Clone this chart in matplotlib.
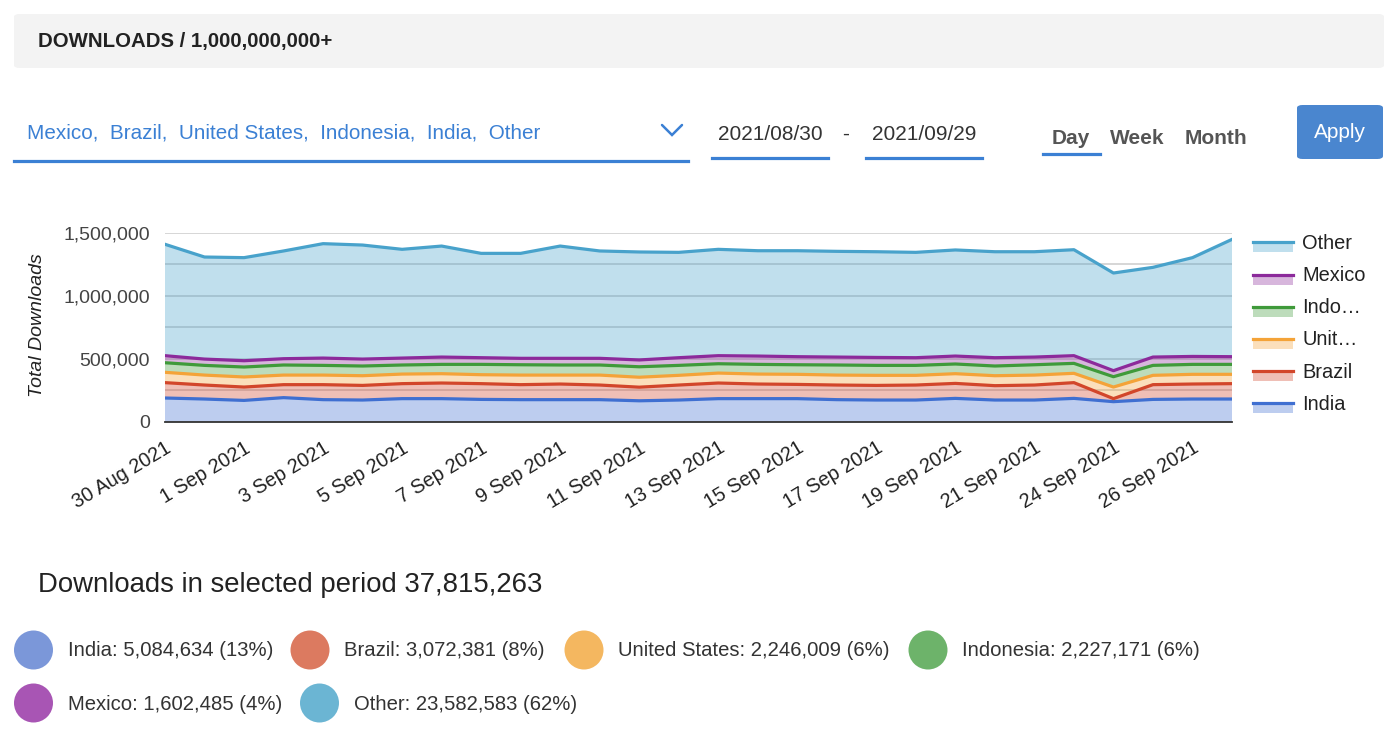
import numpy as np
import matplotlib
matplotlib.use('Agg')
from matplotlib import pyplot as plt
from matplotlib.patches import Rectangle, Ellipse, FancyBboxPatch
from matplotlib.lines import Line2D
from matplotlib.ticker import FuncFormatter, MultipleLocator
from matplotlib.transforms import ScaledTranslation

plt.rcParams['font.family'] = ['Liberation Sans', 'DejaVu Sans']

# daily downloads (per country)
dates = ['30 Aug 2021', '31 Aug 2021', '1 Sep 2021', '2 Sep 2021', '3 Sep 2021', '4 Sep 2021',
         '5 Sep 2021', '6 Sep 2021', '7 Sep 2021', '8 Sep 2021', '9 Sep 2021', '10 Sep 2021',
         '11 Sep 2021', '12 Sep 2021', '13 Sep 2021', '14 Sep 2021', '15 Sep 2021', '16 Sep 2021',
         '17 Sep 2021', '18 Sep 2021', '19 Sep 2021', '20 Sep 2021', '21 Sep 2021', '22 Sep 2021',
         '24 Sep 2021', '25 Sep 2021', '26 Sep 2021', '27 Sep 2021']
india = [188, 180, 169, 191, 175, 172, 183, 183, 177, 175, 175, 175, 166, 172,
         183, 183, 183, 175, 172, 172, 185, 172, 172, 185, 159, 177, 180, 180]
brazil = [122, 111, 106, 103, 119, 116, 119, 124, 125, 119, 124, 116, 108, 119,
          124, 116, 113, 116, 116, 119, 119, 114, 119, 125, 24, 117, 119, 122]
united_states = [82, 79, 80, 76, 76, 77, 76, 74, 71, 76, 71, 79, 79, 77,
                 79, 79, 80, 79, 80, 77, 77, 79, 79, 74, 92, 74, 77, 74]
indonesia = [76, 77, 79, 80, 77, 77, 72, 74, 82, 82, 80, 80, 83, 79,
             74, 77, 76, 80, 79, 79, 77, 77, 82, 79, 82, 79, 79, 79]
mexico = [56, 50, 50, 50, 58, 55, 55, 58, 53, 51, 53, 53, 54, 61,
          64, 66, 64, 63, 63, 61, 63, 66, 61, 61, 48, 66, 63, 61]
other = [884, 810, 818, 855, 908, 905, 863, 881, 828, 833, 891, 852, 857, 836,
         844, 836, 841, 839, 839, 836, 842, 841, 836, 841, 775, 712, 784, 931]

series_names = ['India', 'Brazil', 'Unit…', 'Indo…', 'Mexico', 'Other']
line_colors = ['#3f6fd1', '#d2462a', '#f4a338', '#3f9a3a', '#8c2a9b', '#48a2cb']

# totals for the summary below the chart
total_label = 'Downloads in selected period 37,815,263'
summary = [('India: 5,084,634 (13%)', '#7b97d9'), ('Brazil: 3,072,381 (8%)', '#dc7a60'),
           ('United States: 2,246,009 (6%)', '#f4b760'), ('Indonesia: 2,227,171 (6%)', '#6db36a'),
           ('Mexico: 1,602,485 (4%)', '#a855b4'), ('Other: 23,582,583 (62%)', '#6bb5d3')]

W, H = 1400, 734


def fx(px):
    return px / W


def fy(py):
    return 1 - py / H


fig = plt.figure(figsize=(14, 7.34), dpi=100)

# header bar
fig.patches.append(FancyBboxPatch((fx(14), fy(68)), fx(1384) - fx(14), fy(14) - fy(68),
                                  boxstyle='round,pad=0,rounding_size=0.004',
                                  transform=fig.transFigure, fc='#f3f3f3', ec='none'))
fig.text(fx(38), fy(41), 'DOWNLOADS / 1,000,000,000+', fontsize=14.7, fontweight='bold',
         color='#222222', va='center', ha='left')

# selector row
blue = '#3b80d4'
fig.text(fx(27), fy(133), 'Mexico,  Brazil,  United States,  Indonesia,  India,  Other',
         fontsize=14.9, color=blue, va='center', ha='left')
fig.add_artist(Line2D([fx(14), fx(688)], [fy(161), fy(161)], color=blue, lw=2.3))
fig.add_artist(Line2D([fx(662), fx(672), fx(682)], [fy(125), fy(135), fy(125)],
                      color=blue, lw=1.8, solid_capstyle='round', solid_joinstyle='miter'))
fig.text(fx(770), fy(135), '2021/08/30', fontsize=15, color='#333333', va='center', ha='center')
fig.text(fx(846), fy(134), '-', fontsize=15, color='#333333', va='center', ha='center')
fig.text(fx(924), fy(135), '2021/09/29', fontsize=15, color='#333333', va='center', ha='center')
fig.add_artist(Line2D([fx(712), fx(828)], [fy(158), fy(158)], color=blue, lw=2.3))
fig.add_artist(Line2D([fx(866), fx(982)], [fy(158), fy(158)], color=blue, lw=2.3))
for label, cx in [('Day', 1071), ('Week', 1137), ('Month', 1216)]:
    fig.text(fx(cx), fy(139), label, fontsize=15, fontweight='bold', color='#555555',
             va='center', ha='center')
fig.add_artist(Line2D([fx(1043), fx(1100)], [fy(154), fy(154)], color=blue, lw=2.3))
fig.patches.append(FancyBboxPatch((fx(1297), fy(159)), fx(1383) - fx(1297), fy(105) - fy(159),
                                  boxstyle='round,pad=0,rounding_size=0.004',
                                  transform=fig.transFigure, fc='#4a86cf', ec='none'))
fig.text(fx(1340), fy(132), 'Apply', fontsize=15, color='white', va='center', ha='center')

# chart
ax = fig.add_axes([fx(165), fy(421.7), fx(1232) - fx(165), fy(232.7) - fy(421.7)])
x = np.arange(len(dates))
values = [np.array(v) * 1000 for v in [india, brazil, united_states, indonesia, mexico, other]]
ax.stackplot(x, *values, colors=line_colors, alpha=0.34, lw=0, zorder=2)
tops = np.cumsum(values, axis=0)
for top, c in zip(tops, line_colors):
    ax.plot(x, top, color=c, lw=2.3, zorder=3, solid_joinstyle='round')

ax.set_xlim(0, len(dates) - 1)
ax.set_ylim(0, 1500000)
ax.set_yticks([0, 500000, 1000000, 1500000])
ax.yaxis.set_minor_locator(MultipleLocator(250000))
ax.yaxis.set_major_formatter(FuncFormatter(lambda v, p: '{:,.0f}'.format(v)))
ax.grid(axis='y', which='both', color='#cfcfcf', lw=1.2, zorder=1)
ax.set_axisbelow(True)
ax.set_xticks(x[::2])
ax.set_xticklabels(dates[::2], rotation=31, ha='right', va='top', rotation_mode='anchor')
shift = ScaledTranslation(-4 / 72, 0, fig.dpi_scale_trans)
for lab in ax.get_xticklabels():
    lab.set_transform(lab.get_transform() + shift)
ax.tick_params(axis='y', length=0, pad=11, labelsize=14, labelcolor='#444444', which='both')
ax.tick_params(axis='x', length=0, pad=12, labelsize=14.2, labelcolor='#222222')
for s in ['top', 'right', 'left']:
    ax.spines[s].set_visible(False)
ax.spines['bottom'].set_color('#333333')
ax.spines['bottom'].set_linewidth(1.3)
ax.spines['bottom'].set_zorder(4)

fig.text(fx(37.5), fy(325.5), 'Total Downloads', rotation=90, fontsize=14, style='italic',
         color='#222222', va='center', ha='center')

# legend on the right, top to bottom
for i, idx in enumerate(range(5, -1, -1)):
    ly = 242.3 + 32.2 * i
    c = line_colors[idx]
    fig.patches.append(Rectangle((fx(1253), fy(ly + 10)), fx(1293) - fx(1253), fy(ly) - fy(ly + 10),
                                 transform=fig.transFigure, fc=c, alpha=0.34, ec='none'))
    fig.add_artist(Line2D([fx(1253), fx(1293)], [fy(ly), fy(ly)], color=c, lw=2.3))
    fig.text(fx(1302), fy(ly + 1), series_names[idx], fontsize=14.4, color='#222222',
             va='center', ha='left')

# summary below
fig.text(fx(38), fy(585), total_label, fontsize=19.8, color='#222222', va='center', ha='left')
positions = [(33.5, 650), (310, 650), (584, 650), (928, 650), (33.5, 703), (319.5, 703)]
for (label, c), (cx, cy) in zip(summary, positions):
    fig.patches.append(Ellipse((fx(cx), fy(cy)), 39 / W, 39 / H, transform=fig.transFigure,
                               fc=c, ec='none'))
    fig.text(fx(cx + 34.5), fy(cy + 1), label, fontsize=14.6, color='#333333',
             va='center', ha='left')

fig.savefig('out.png', dpi=100)
